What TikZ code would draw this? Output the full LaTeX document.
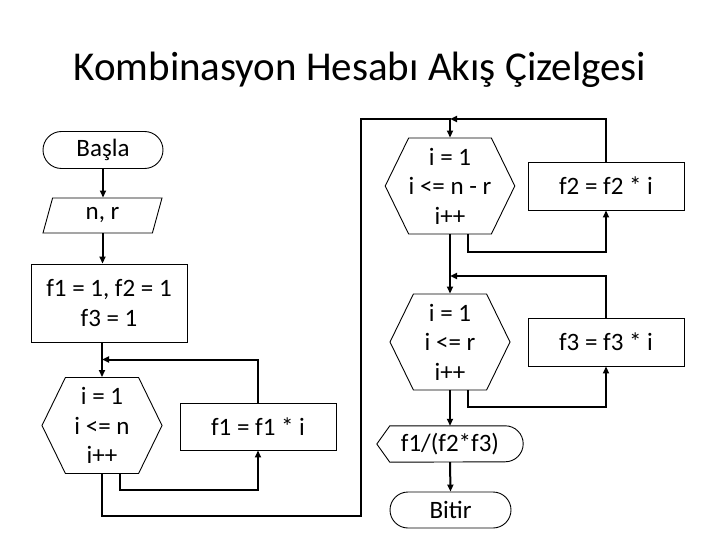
\documentclass[tikz,border=0pt]{standalone}
\usepackage{fontspec}
\setmainfont{Carlito}
\usetikzlibrary{arrows.meta,calc,shapes.geometric,shapes.misc,shapes.symbols,positioning}
\tikzset {
  >={Triangle[length=7pt,width=6pt]},
  every node/.style={font=\fontsize{25}{29.5}\selectfont},
  shapeline/.style={draw,line width=0.9pt,inner sep=0pt},
  procbox/.style={shapeline,minimum width=156pt,minimum height=48pt},
  term/.style={shapeline,rounded rectangle,minimum width=120pt,minimum height=37pt},
  io/.style={shapeline,trapezium,trapezium left angle=58,trapezium right angle=122,
    trapezium stretches body,minimum width=119pt,minimum height=35pt},
  forhex/.style={shapeline,signal,signal to=west and east,signal pointer angle=128,
    minimum width=120pt,minimum height=96pt,align=center},
  flow/.style={->,line width=2pt},
}

\begin{document}
\begin{tikzpicture}[x=1pt,y=-1pt]
          \useasboundingbox (0,0) rectangle (720,540);
          \node (baslik) at (360,70)[font=\fontsize{41}{49}\selectfont]{Kombinasyon Hesabı Akış Çizelgesi};
          % left column
          \node (basla) at (103,150)[term]{Başla};
          \node (girdi) at (102.5,215.5)[io]{n, r};
          \node (ilk) at (109,303)[procbox,minimum height=78pt,align=center]{f1 = 1, f2 = 1\\f3 = 1};
          \node (dongu1) at (102,425.5)[forhex]{i = 1\\i <= n\\i++};
          \node (carp1) at (258,426.5)[procbox,minimum height=47pt]{f1 = f1 * i};
          % right columns
          \node (dongu2) at (450,186)[forhex]{i = 1\\i <= n - r\\i++};
          \node (carp2) at (606,186)[procbox]{f2 = f2 * i};
          \node (dongu3) at (450,342)[forhex]{i = 1\\i <= r\\i++};
          \node (carp3) at (606,342)[procbox]{f3 = f3 * i};
          \node (sonuc) at (450,444)[inner sep=0pt,minimum width=146pt,minimum height=36pt]{f1/(f2*f3)};
          \draw[line width=0.9pt] (sonuc.west) -- ([xshift=13pt]sonuc.north west)
            -- ([xshift=-18pt]sonuc.north east) arc[start angle=90,end angle=-90,radius=18pt]
            -- ([xshift=13pt]sonuc.south west) -- cycle;
          \node (bitir) at (450.5,510)[term,minimum width=121pt,minimum height=36pt]{Bitir};
          % junctions
          \coordinate (ja) at (102,359.5);
          \coordinate (geri) at (361,516);
          \coordinate (jb) at (450,119);
          \coordinate (jc) at (450,276);
          % connectors
          \draw[flow] (basla.south) -- (basla.south |- girdi.north);
          \draw[flow] (girdi.south) -- (girdi.south |- ilk.north);
          \draw[flow] (ilk.south -| dongu1.north) -- (dongu1.north);
          \draw[flow] ([xshift=18pt]dongu1.south) -- ++(0,16) -| (carp1.south);
          \draw[flow] (carp1.north) |- (ja);
          \draw[flow] (dongu1.south) |- (geri) |- (jb) -- (dongu2.north);
          \draw[flow] ([xshift=18pt]dongu2.south) -- ++(0,18) -| (carp2.south);
          \draw[flow] (carp2.north) |- (jb);
          \draw[flow] (dongu2.south) -- (dongu3.north);
          \draw[flow] ([xshift=18pt]dongu3.south) -- ++(0,17) -| (carp3.south);
          \draw[flow] (carp3.north) |- (jc);
          \draw[flow] (dongu3.south) -- (sonuc.north);
          \draw[flow] (sonuc.south) -- (bitir.north);
        \end{tikzpicture}
\end{document}
